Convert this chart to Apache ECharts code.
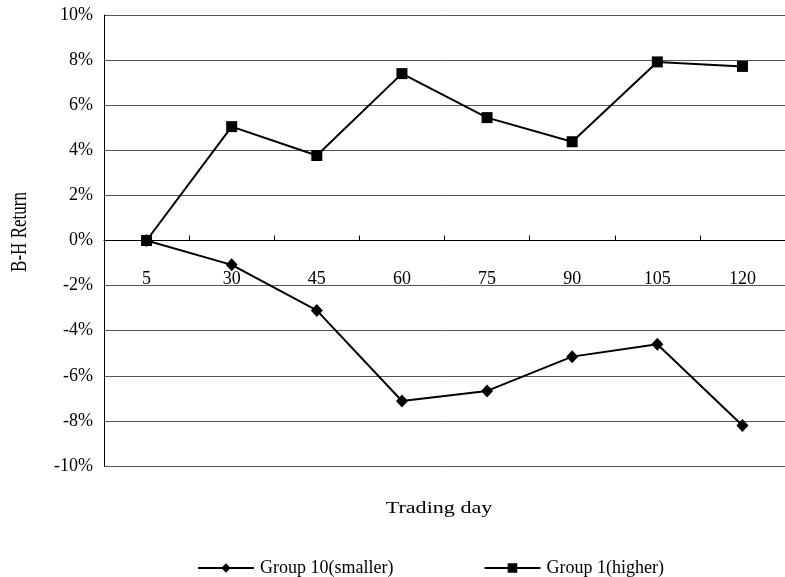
<!DOCTYPE html>
<html>
<head>
<meta charset="utf-8">
<script src="https://cdn.jsdelivr.net/npm/echarts@6/dist/echarts.min.js"></script>
<style>
html,body{margin:0;padding:0;background:#fff;}
#chart{width:785px;height:577px;}
</style>
</head>
<body>
<div id="chart"></div>
<script>
const categories = ['5', '30', '45', '60', '75', '90', '105', '120'];
const group10 = [0, -1.08, -3.1, -7.12, -6.67, -5.15, -4.6, -8.2];
const group1 = [0, 5.05, 3.77, 7.4, 5.45, 4.38, 7.92, 7.72];
const yTicks = { min: -10, max: 10, interval: 2 };

const FONT = '"Liberation Serif", "Times New Roman", serif';
const GRID_TOP = 15, GRID_H = 451;
// the category axis sits on the 0% line
const zeroOffset = -GRID_H * (0 - yTicks.min) / (yTicks.max - yTicks.min);

const chart = echarts.init(document.getElementById('chart'), null, { renderer: 'canvas' });
chart.setOption({
  backgroundColor: '#ffffff',
  animation: false,
  grid: { left: 104, top: GRID_TOP, width: 689, height: GRID_H, containLabel: false },
  xAxis: {
    type: 'category',
    data: categories,
    boundaryGap: true,
    position: 'bottom',
    offset: zeroOffset,
    axisLine: { onZero: false, lineStyle: { color: '#000', width: 1 } },
    axisTick: { show: true, inside: true, length: 5, alignWithLabel: false, lineStyle: { color: '#000' } },
    axisLabel: { margin: 30, fontFamily: FONT, fontSize: 18, color: '#000' },
    splitLine: { show: false }
  },
  yAxis: {
    type: 'value',
    min: yTicks.min, max: yTicks.max, interval: yTicks.interval,
    axisLine: { show: true, lineStyle: { color: '#000', width: 1 } },
    axisTick: { show: false },
    axisLabel: { formatter: '{value}%', margin: 11, fontFamily: FONT, fontSize: 18, color: '#000' },
    splitLine: { show: true, lineStyle: { color: '#555', width: 1 } }
  },
  legend: {
    left: 197, top: 559, padding: 0,
    itemWidth: 56, itemHeight: 12, itemGap: 90,
    lineStyle: { width: 2 },
    textStyle: { fontFamily: FONT, fontSize: 18, color: '#000', padding: [0, 0, 0, 1] },
    data: ['Group 10(smaller)', 'Group 1(higher)']
  },
  graphic: [
    { type: 'text', x: 439, y: 509, scaleX: 1.3, style: { text: 'Trading day', font: '17px ' + FONT, fill: '#000', textAlign: 'center', textVerticalAlign: 'middle' } },
    { type: 'text', x: 20, y: 232, rotation: Math.PI / 2, scaleY: 1.3, style: { text: 'B-H Return', font: '17px ' + FONT, fill: '#000', textAlign: 'center', textVerticalAlign: 'middle' } }
  ],
  series: [
    {
      name: 'Group 10(smaller)', type: 'line', data: group10,
      symbol: 'diamond', symbolSize: [12, 13],
      lineStyle: { color: '#000', width: 2 }, itemStyle: { color: '#000' }
    },
    {
      name: 'Group 1(higher)', type: 'line', data: group1,
      symbol: 'rect', symbolSize: 11,
      lineStyle: { color: '#000', width: 2 }, itemStyle: { color: '#000' }
    }
  ]
});
</script>
</body>
</html>
